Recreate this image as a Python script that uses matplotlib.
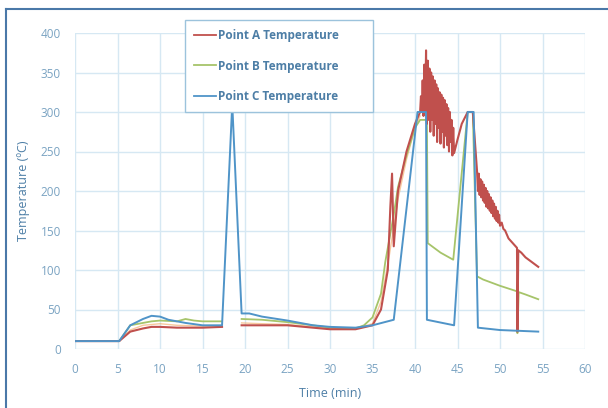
import numpy as np
import matplotlib
matplotlib.use("Agg")
import matplotlib.pyplot as plt
from matplotlib.lines import Line2D

nan = np.nan

# Point A (red)
tA = [0, 5.2, 6.5, 8, 9, 10, 12, 15, 17.3, 17.4, 19.6, 22, 25, 28, 30, 33, 35, 36, 36.8, 37.1, 37.3, 37.5,
      38, 39, 40, 40.6,
      40.7, 40.8, 40.9, 41.0, 41.1, 41.2, 41.3, 41.4, 41.5, 41.6, 41.7, 41.8, 41.9, 42.0, 42.1, 42.2,
      42.3, 42.4, 42.5, 42.6, 42.7, 42.8, 42.9, 43.0, 43.1, 43.2, 43.3, 43.4, 43.5, 43.6, 43.7, 43.8,
      43.9, 44.0, 44.1, 44.2, 44.3, 44.4, 44.5, 44.6,
      45, 45.5, 46.2, 46.8,
      47.3, 47.4, 47.5, 47.6, 47.7, 47.8, 47.9, 48.0, 48.1, 48.2, 48.3, 48.4, 48.5, 48.6, 48.7, 48.8,
      48.9, 49.0, 49.1, 49.2, 49.3, 49.4, 49.5, 49.6, 49.7, 49.8, 49.9, 50.0, 50.2, 50.4, 50.6,
      51, 52, 52.05, 52.15, 52.5, 53, 54, 54.5]
vA = [10, 10, 22, 26, 28, 28, 27, 27, 28, nan, 30, 30, 30, 27, 25, 25, 30, 50, 100, 180, 222, 130,
      200, 250, 285, 300,
      320, 300, 340, 295, 360, 300, 378, 285, 365, 290, 355, 275, 350, 290, 345, 270,
      340, 285, 335, 262, 330, 280, 325, 260, 322, 275, 318, 255, 315, 270, 310, 258,
      305, 250, 300, 262, 290, 245, 280, 248,
      265, 285, 300, 300,
      225, 200, 222, 195, 215, 192, 212, 188, 208, 185, 204, 180, 200, 178, 196, 175,
      192, 172, 188, 168, 184, 165, 180, 162, 175, 160, 170, 156, 160, 152, 150,
      140, 128, 22, 125, 122, 116, 108, 104]

# Point B (green)
tB = [0, 5.2, 6.5, 8, 9, 10, 12, 13, 14, 15, 17.3, 17.4, 19.6, 22, 25, 28, 30, 33, 34, 35, 36, 36.5, 37,
      37.5, 38, 39, 40, 40.6, 41.4, 41.5, 42, 43, 44.5, 46.2, 46.8, 47.3, 48, 50, 52, 52.05, 52.2, 53, 54.5]
vB = [10, 10, 30, 33, 35, 36, 35, 38, 36, 35, 35, nan, 38, 37, 34, 30, 27, 26, 30, 40, 70, 110, 140,
      170, 205, 245, 280, 290, 290, 134, 130, 122, 113, 300, 300, 92, 88, 80, 73, 20, 72, 69, 63]

# Point C (blue)
tC = [0, 5.2, 6.5, 8, 9, 10, 11, 13, 15, 17.3, 18.5, 19.6, 20.5, 22, 25, 28, 30, 33, 35, 37.5, 40.3,
      41.3, 41.4, 44.6, 46.2, 46.9, 47.4, 50, 54.5]
vC = [10, 10, 30, 38, 42, 41, 37, 33, 30, 30, 310, 45, 45, 41, 36, 30, 28, 27, 30, 37, 300,
      300, 37, 30, 300, 300, 27, 24, 22]

# additional unlabeled sensor (orange, faint)
tD = [0, 5.2, 6.5, 8, 10, 12, 15, 17.3, 17.4, 19.6, 22, 25, 28, 30, 33, 35, 36, 37, 38, 39, 40, 40.6]
vD = [10, 10, 24, 30, 32, 30, 29, 29, nan, 33, 32, 31, 28, 26, 26, 32, 60, 120, 190, 240, 280, 295]

labels = ["Point A Temperature", "Point B Temperature", "Point C Temperature"]
xticks = list(range(0, 61, 5))
yticks = list(range(0, 401, 50))

cA, cB, cC, cD = "#c0504d", "#a6c46a", "#4f94c8", "#f2a65e"
tick_color = "#7aa3c2"
label_color = "#4d7ea6"
grid_color = "#d6e8f3"

plt.rcParams['font.family'] = ['Open Sans', 'DejaVu Sans']
fig = plt.figure(figsize=(6.08, 4.08), dpi=100)
ax = fig.add_axes([75/608, 1-349/408, 510/608, 316/408])

ax.plot(tD, vD, color=cD, lw=1.0, alpha=0.6)
ax.plot(tB, vB, color=cB, lw=1.3)
ax.plot(tA, vA, color=cA, lw=1.5)
ax.plot(tC, vC, color=cC, lw=1.4)

ax.set_xlim(0, 60)
ax.set_ylim(0, 400)
ax.set_xticks(xticks)
ax.set_yticks(yticks)
ax.grid(True, color=grid_color, lw=1.0)
ax.set_axisbelow(True)
for s in ax.spines.values():
    s.set_visible(False)
ax.tick_params(length=0, colors=tick_color, labelsize=8.5, pad=10)
ax.set_xlabel("Time (min)", color=label_color, fontsize=9, labelpad=8)
ax.set_ylabel("Temperature (ºC)", color=label_color, fontsize=9, labelpad=8)

handles = [Line2D([], [], color=c, lw=1.3) for c in (cA, cB, cC)]
leg = fig.legend(handles, labels, loc="upper left",
                 bbox_to_anchor=(185/608, 1-110/408, 188/608, 90/408), mode="expand",
                 borderaxespad=0,
                 fontsize=8.5, labelspacing=1.45, handlelength=1.8, handletextpad=0.2,
                 borderpad=0.8, fancybox=False, framealpha=1, edgecolor="#9cc3dc")
leg.get_frame().set_linewidth(1.0)
for t in leg.get_texts():
    t.set_color(label_color)
    t.set_fontweight("bold")

# outer frame (left and top border)
fig.add_artist(Line2D([6/608, 6/608], [0, 1-9/408], color="#4a78a8", lw=1.5, transform=fig.transFigure))
fig.add_artist(Line2D([6/608, 1], [1-9/408, 1-9/408], color="#4a78a8", lw=1.5, transform=fig.transFigure))

fig.savefig("out.png", dpi=100)
